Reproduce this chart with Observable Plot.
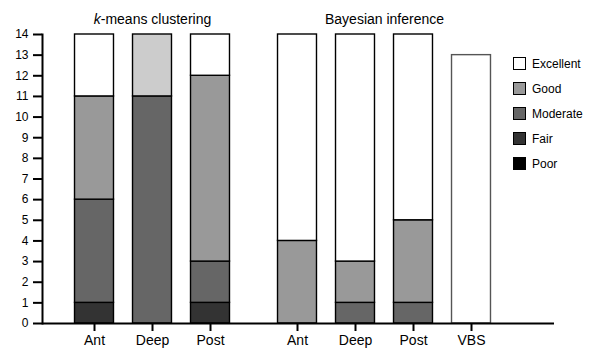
<!DOCTYPE html>
<html><head><meta charset="utf-8">
<script src="https://cdn.jsdelivr.net/npm/d3@7"></script>
<script src="https://cdn.jsdelivr.net/npm/@observablehq/plot@0.6"></script>
<style>
body{margin:0;background:#fff;font-family:"Liberation Sans",Arial,Helvetica,sans-serif;}
#wrap{position:relative;width:597px;height:348px;overflow:hidden;background:#fff;}
#legend{position:absolute;left:513px;top:57px;}
.item{display:flex;align-items:center;height:13px;margin-bottom:12px;font-size:12px;color:#000;white-space:nowrap;}
.sw{width:11px;height:11px;border:1px solid #000;margin-right:6px;}
</style></head><body><div id="wrap"><div id="legend"></div></div>
<script>
const groupTitles = ["k-means clustering", "Bayesian inference"];
const kmeansSites = ["Ant", "Deep", "Post"];
const bayesSites = ["Ant", "Deep", "Post", "VBS"];
const levels = ["Excellent", "Good", "Moderate", "Fair", "Poor"];
const levelColors = ["#ffffff", "#999999", "#666666", "#333333", "#000000"];
const extraColor = "#cccccc";
// counts per bar: k-means Ant, Deep, Post | Bayesian Ant, Deep, Post, VBS
const poor      = [0, 0, 0,  0, 0, 0, 0];
const fair      = [1, 0, 1,  0, 0, 0, 0];
const moderate  = [5, 11, 2, 0, 1, 1, 0];
const good      = [5, 0, 9,  4, 2, 4, 0];
const unlabeled = [0, 3, 0,  0, 0, 0, 0];   // light grey top of k-means Deep
const excellent = [3, 0, 2,  10, 11, 9, 13];
const yTicks = [0,1,2,3,4,5,6,7,8,9,10,11,12,13,14];

// build bars
const bars = [];
kmeansSites.forEach((s, j) => bars.push({group: 0, site: s, pos: j + 1}));
bayesSites.forEach((s, j) => bars.push({group: 1, site: s, pos: j + 4.5}));
const stackOrder = [
  {name: "Poor", vals: poor, color: levelColors[4]},
  {name: "Fair", vals: fair, color: levelColors[3]},
  {name: "Moderate", vals: moderate, color: levelColors[2]},
  {name: "Good", vals: good, color: levelColors[1]},
  {name: "Other", vals: unlabeled, color: extraColor},
  {name: "Excellent", vals: excellent, color: levelColors[0]}
];
const segments = [];
bars.forEach((b, i) => {
  let acc = 0;
  stackOrder.forEach(l => {
    const v = l.vals[i];
    if (v > 0) {
      segments.push({pos: b.pos, site: b.site, level: l.name, y1: acc, y2: acc + v, color: l.color,
        stroke: b.site === "VBS" ? "#555555" : "#000000"});
      acc += v;
    }
  });
});
const halfW = 0.336;
const labelByPos = new Map(bars.map(b => [b.pos, b.site]));
const centers = [0, 1].map(g => d3.mean(bars.filter(b => b.group === g), b => b.pos));

const chart = Plot.plot({
  width: 597, height: 348,
  marginLeft: 42, marginRight: 43, marginTop: 34, marginBottom: 25,
  x: {domain: [0.1034, 8.931]},
  y: {domain: [0, 14]},
  color: {type: "identity"},
  style: {fontFamily: '"Liberation Sans", Arial, Helvetica, sans-serif', background: "transparent", color: "#000"},
  marks: [
    Plot.rect(segments, {x1: d => d.pos - halfW, x2: d => d.pos + halfW, y1: "y1", y2: "y2",
      fill: "color", stroke: "stroke", strokeWidth: 1.4}),
    Plot.axisY({ticks: yTicks, tickSize: 9, tickPadding: 5, fontSize: 12, strokeWidth: 2, label: null}),
    Plot.axisX({ticks: bars.map(b => b.pos), tickFormat: p => labelByPos.get(p), tickSize: 8, tickPadding: 4,
      fontSize: 14, strokeWidth: 2, label: null}),
    Plot.frame({anchor: "left", strokeWidth: 2}),
    Plot.ruleY([0], {strokeWidth: 2}),
    Plot.text(groupTitles, {x: (d, i) => centers[i], frameAnchor: "top", lineAnchor: "bottom", dy: -11, fontSize: 14})
  ]
});
chart.querySelectorAll("text").forEach(t => {
  if (t.textContent === "k-means clustering") {
    t.innerHTML = '<tspan font-style="italic">k</tspan>-means clustering';
  }
});
document.getElementById("wrap").prepend(chart);

const legend = document.getElementById("legend");
levels.forEach((l, i) => {
  const item = document.createElement("div");
  item.className = "item";
  item.innerHTML = `<div class="sw" style="background:${levelColors[i]}"></div><span>${l}</span>`;
  legend.appendChild(item);
});
</script></body></html>
